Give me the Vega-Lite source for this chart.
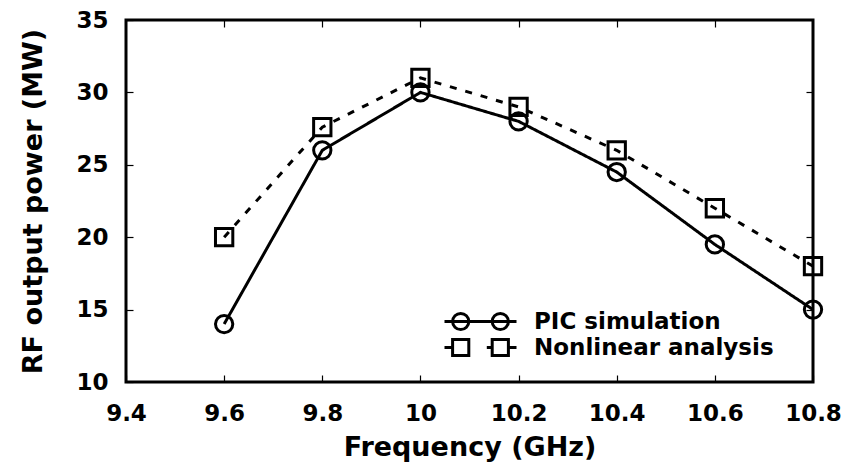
{
  "$schema": "https://vega.github.io/schema/vega-lite/v6.json",
  "autosize": "none",
  "width": 687,
  "height": 362,
  "padding": {"left": 126, "top": 20, "right": 35, "bottom": 87},
  "background": "white",
  "config": {
    "font": "DejaVu Sans",
    "view": {"stroke": "black", "strokeWidth": 3},
    "axis": {
      "grid": false,
      "domain": false,
      "ticks": true,
      "tickSize": -7,
      "tickColor": "black",
      "tickWidth": 1.2,
      "labelFont": "DejaVu Sans",
      "labelFontWeight": "bold",
      "labelFontSize": 23,
      "labelColor": "black",
      "titleFont": "DejaVu Sans",
      "titleFontWeight": "bold",
      "titleFontSize": 27,
      "titleColor": "black"
    }
  },
  "data": {
    "values": [
      {"f": 9.6, "p": 14, "series": "PIC simulation"},
      {"f": 9.8, "p": 26, "series": "PIC simulation"},
      {"f": 10.0, "p": 30, "series": "PIC simulation"},
      {"f": 10.2, "p": 28, "series": "PIC simulation"},
      {"f": 10.4, "p": 24.5, "series": "PIC simulation"},
      {"f": 10.6, "p": 19.5, "series": "PIC simulation"},
      {"f": 10.8, "p": 15, "series": "PIC simulation"},
      {"f": 9.6, "p": 20, "series": "Nonlinear analysis"},
      {"f": 9.8, "p": 27.6, "series": "Nonlinear analysis"},
      {"f": 10.0, "p": 31, "series": "Nonlinear analysis"},
      {"f": 10.2, "p": 29, "series": "Nonlinear analysis"},
      {"f": 10.4, "p": 26, "series": "Nonlinear analysis"},
      {"f": 10.6, "p": 22, "series": "Nonlinear analysis"},
      {"f": 10.8, "p": 18, "series": "Nonlinear analysis"}
    ]
  },
  "layer": [
    {
      "mark": {"type": "line", "color": "black", "strokeWidth": 3},
      "encoding": {
        "x": {"field": "f", "type": "quantitative", "scale": {"domain": [9.4, 10.8], "nice": false, "zero": false},
              "axis": {"orient": "bottom", "values": [9.4, 9.6, 9.8, 10, 10.2, 10.4, 10.6, 10.8], "format": "~g", "labelPadding": 27, "labelFlush": false, "title": "Frequency (GHz)", "titlePadding": 9}},
        "y": {"field": "p", "type": "quantitative", "scale": {"domain": [10, 35], "nice": false, "zero": false},
              "axis": {"orient": "left", "values": [10, 15, 20, 25, 30, 35], "labelPadding": 25, "title": "RF output power (MW)", "titlePadding": 28}},
        "detail": {"field": "series"},
        "strokeDash": {"field": "series", "type": "nominal",
                       "scale": {"domain": ["PIC simulation", "Nonlinear analysis"], "range": [[1, 0], [7, 9]]},
                       "legend": null}
      }
    },
    {
      "mark": {"type": "point", "color": "black", "filled": false, "strokeWidth": 3, "size": 300, "opacity": 1},
      "encoding": {
        "x": {"field": "f", "type": "quantitative", "axis": {"orient": "top", "values": [9.6, 9.8, 10, 10.2, 10.4, 10.6], "labels": false, "title": null}},
        "y": {"field": "p", "type": "quantitative", "axis": {"orient": "right", "values": [15, 20, 25, 30], "labels": false, "title": null}},
        "shape": {"field": "series", "type": "nominal",
                  "scale": {"domain": ["PIC simulation", "Nonlinear analysis"], "range": ["circle", "square"]},
                  "legend": null}
      }
    },
    {
      "mark": {"type": "point", "color": "black", "filled": false, "strokeWidth": 3, "size": 324, "opacity": 0},
      "encoding": {
        "x": {"field": "f", "type": "quantitative", "axis": null},
        "y": {"field": "p", "type": "quantitative", "axis": null},
        "shape": {"field": "series", "type": "nominal",
                  "scale": {"domain": ["PIC simulation", "Nonlinear analysis"],
                            "range": ["M-4,0H4M-3.1,0A0.9,0.9,0,1,1,-1.3,0A0.9,0.9,0,1,1,-3.1,0M1.3,0A0.9,0.9,0,1,1,3.1,0A0.9,0.9,0,1,1,1.3,0",
                                      "M-4,0H-3.1M-3.1,-0.9H-1.3V0.9H-3.1ZM1.3,-0.9H3.1V0.9H1.3ZM3.1,0H4M0.7,0H1.3"]},
                  "legend": {
                    "title": null,
                    "orient": "none",
                    "legendX": 343,
                    "legendY": 290,
                    "padding": 0,
                    "symbolSize": 324,
                    "symbolOpacity": 1,
                    "symbolStrokeColor": "black",
                    "symbolFillColor": "transparent",
                    "symbolStrokeWidth": 3,
                    "labelFont": "DejaVu Sans",
                    "labelFontWeight": "bold",
                    "labelFontSize": 23,
                    "labelColor": "black",
                    "labelOffset": 42,
                    "rowPadding": -3,
                    "labelLimit": 400
                  }}
      }
    }
  ],
  "resolve": {"scale": {"shape": "independent"}, "axis": {"x": "independent", "y": "independent"}}
}
